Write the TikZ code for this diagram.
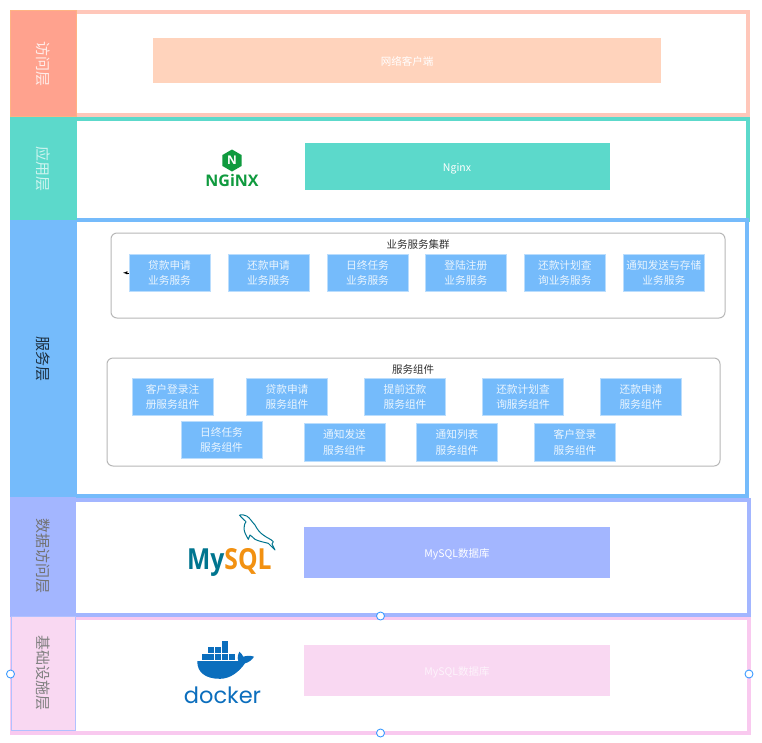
\documentclass[tikz,border=0pt]{standalone}
\usepackage{fontspec}
\setmainfont{Noto Sans CJK SC}
\newfontfamily\logofont{Open Sans}
\newfontfamily\mysqlfont[FakeStretch=0.85]{Open Sans}
\newfontfamily\dockerfont{Poppins}
\usetikzlibrary{shapes.geometric}

\definecolor{accessPink}{HTML}{FFC7BA}
\definecolor{accessLabel}{HTML}{FFA28E}
\definecolor{accessBox}{HTML}{FFD3BC}
\definecolor{appGreen}{HTML}{5CD9CB}
\definecolor{svcBlue}{HTML}{75BBFB}
\definecolor{dataBlue}{HTML}{A3B6FF}
\definecolor{basePink}{HTML}{F9C9EF}
\definecolor{baseBox}{HTML}{F9D8F2}
\definecolor{nginxGreen}{HTML}{0F9A3E}
\definecolor{mysqlTeal}{HTML}{00758F}
\definecolor{mysqlOrange}{HTML}{F29111}
\definecolor{dockerBlue}{HTML}{0B6EBD}
\definecolor{handleBlue}{HTML}{3C9BFF}

\tikzset{
  layerbox/.style={draw=#1,line width=4pt,fill=white,inner sep=0pt},
  layertag/.style={fill=#1,rotate=-90,inner sep=0pt,font=\fontsize{15}{15}\selectfont},
  widebox/.style={fill=#1,inner sep=0pt,text=white,text height=9.5pt,text depth=0pt,font=\fontsize{10.5}{14}\selectfont},
  svcbox/.style={draw=svcBlue!50!white,line width=0.6pt,fill=svcBlue,minimum width=81pt,minimum height=37.5pt,inner sep=0pt,align=center,text=white!85!svcBlue,font=\fontsize{10.7}{15.5}\selectfont},
  groupbox/.style={draw=black!28,line width=1pt,rounded corners=6pt,inner sep=0pt},
  grouptitle/.style={inner sep=0pt,text=black!80,font=\fontsize{10.5}{12}\selectfont},
  handle/.style={circle,draw=handleBlue,line width=0.9pt,fill=white,minimum size=8pt,inner sep=0pt}
}

\begin{document}
\begin{tikzpicture}[x=1pt,y=-1pt]
\useasboundingbox (0,0) rectangle (762,742);

% layers
\node[layerbox=accessPink,minimum width=736pt,minimum height=103pt] (accessLayer) at (380,63.5) {};
\node[layerbox=appGreen,minimum width=736pt,minimum height=101pt] (appLayer) at (380,169) {};
\node[layerbox=svcBlue,minimum width=735pt,minimum height=276pt] (svcLayer) at (379.5,358) {};
\node[layerbox=basePink,minimum width=737pt,minimum height=115pt] (baseLayer) at (380.5,675) {};
\node[layerbox=dataBlue,minimum width=737pt,minimum height=115pt] (dataLayer) at (380.5,557.5) {};

% layer titles
\node[layertag=accessLabel,draw=accessPink!70!orange,line width=0.8pt,minimum width=106pt,minimum height=66pt,text=white!80!accessLabel] (accessTag) at (43.5,63.5) {访问层};
\node[layertag=appGreen,minimum width=101pt,minimum height=67pt,text=white!70!appGreen] (appTag) at (43.5,169) {应用层};
\node[layertag=svcBlue,minimum width=277pt,minimum height=67pt,text=black!75!svcBlue] (svcTag) at (43.5,358.5) {服务层};
\node[layertag=dataBlue,minimum width=117pt,minimum height=66pt,text=black!55] (dataTag) at (43,555.5) {数据访问层};
\node[layertag=baseBox,draw=dataBlue!85!white,line width=0.8pt,minimum width=114pt,minimum height=64.5pt,text=black!50] (baseTag) at (43.3,673) {基础设施层};

% wide boxes
\node[widebox=accessBox,minimum width=508pt,minimum height=45pt] (client) at (407,60.5) {网络客户端};
\node[widebox=appGreen,minimum width=305pt,minimum height=47pt] (nginx) at (457,166.5) {Nginx};
\node[widebox=dataBlue,minimum width=306pt,minimum height=51pt] (mysql) at (457,552.5) {MySQL数据库};
\node[widebox=baseBox,minimum width=306pt,minimum height=51pt,text=white!70!baseBox] (infra) at (457,670.5) {MySQL数据库};

% groups
\node[groupbox,minimum width=614pt,minimum height=85pt] (bizGroup) at (418,275.5) {};
\node[grouptitle] (bizTitle) at (418,244) {业务服务集群};
\node[groupbox,minimum width=613pt,minimum height=108pt] (compGroup) at (413.5,412) {};
\node[grouptitle] (compTitle) at (413,370) {服务组件};

% business services
\node[svcbox] (loanBiz) at (169.5,272.8) {贷款申请\\业务服务};
\node[svcbox] (repayBiz) at (268.5,272.8) {还款申请\\业务服务};
\node[svcbox] (dailyBiz) at (367.5,272.8) {日终任务\\业务服务};
\node[svcbox] (loginBiz) at (465.8,272.8) {登陆注册\\业务服务};
\node[svcbox] (planBiz) at (564.8,272.8) {还款计划查\\询业务服务};
\node[svcbox] (noticeBiz) at (663.8,272.8) {通知发送与存储\\业务服务};

% components, first row
\node[svcbox] (signupComp) at (172.5,397) {客户登录注\\册服务组件};
\node[svcbox] (loanComp) at (287,397) {贷款申请\\服务组件};
\node[svcbox] (earlyComp) at (405,397) {提前还款\\服务组件};
\node[svcbox] (planComp) at (523,397) {还款计划查\\询服务组件};
\node[svcbox] (repayComp) at (641,397) {还款申请\\服务组件};

% components, second row
\node[svcbox] (dailyComp) at (221.5,439.8) {日终任务\\服务组件};
\node[svcbox] (sendComp) at (344.5,442.2) {通知发送\\服务组件};
\node[svcbox] (listComp) at (457,442.2) {通知列表\\服务组件};
\node[svcbox] (loginComp) at (575,442.2) {客户登录\\服务组件};

% stray arrow
\coordinate (stubEnd) at (123,272.8);
\draw[-latex,line width=0.5pt] (loanBiz.west) -- (stubEnd);

% nginx logo
\node[regular polygon,regular polygon sides=6,shape border rotate=30,fill=nginxGreen,minimum size=22pt,inner sep=0pt,text=white,font=\logofont\bfseries\fontsize{12}{12}\selectfont] (nginxHex) at (232,160.5) {N};
\node[inner sep=0pt,text=nginxGreen,font=\logofont\bfseries\fontsize{16}{16}\selectfont] (nginxWord) at (232,180.5) {NGiNX};

% mysql logo
\node[inner sep=0pt,anchor=base west,font=\mysqlfont\bfseries\fontsize{29}{30}\selectfont] (mysqlWord) at (187,569) {\textcolor{mysqlTeal}{My}\textcolor{mysqlOrange}{SQL}};
\draw[mysqlTeal,line width=1pt,line join=round] (239.3,515) .. controls (242,514.5) and (245,515) .. (246.7,516) .. controls (250,518) and (252,522) .. (255,525) .. controls (257,529) and (260,533) .. (263.3,535) .. controls (267,538) and (271,539) .. (273.3,541.7) -- (272,544) -- (275,550) .. controls (272,547) and (270,545) .. (268.3,543.3) .. controls (263,542) and (258,541) .. (255,539.3) .. controls (253,538) and (252,536) .. (250,535) -- (248.3,539.3) .. controls (246,535) and (244,532) .. (244,528.3) .. controls (244,525) and (245,523) .. (246,521.7) .. controls (244,519) and (241,518) .. (239.3,515);

% docker logo
\fill[dockerBlue] (197.3,661) -- (238.3,661) .. controls (237,657) and (238,654) .. (239.3,651.7) .. controls (241,653) and (242.5,655) .. (243.3,656.7) .. controls (247,655.5) and (251,655.5) .. (254,656.7) .. controls (252,660) and (248.5,662.5) .. (245,663.3) .. controls (239,672) and (230,678.8) .. (220,678.8) .. controls (205,678.8) and (197,672) .. (197.3,661) -- cycle;
\foreach \cx in {201.7,208.4,215.1,221.8,228.5} \fill[dockerBlue] (\cx,653.6) rectangle ++(6,6);
\foreach \cx in {208.4,215.1,221.8} \fill[dockerBlue] (\cx,647) rectangle ++(6,6);
\fill[dockerBlue] (221.8,640.6) rectangle ++(6,6);
\node[inner sep=0pt,text=dockerBlue,font=\dockerfont\fontsize{22.5}{24}\selectfont] (dockerWord) at (222.5,695) {docker};

% handles
\node[handle] (handleTop) at (380.5,616) {};
\node[handle] (handleBottom) at (380.5,733) {};
\node[handle] (handleLeft) at (10.5,674) {};
\node[handle] (handleRight) at (749,674) {};

\end{tikzpicture}
\end{document}
